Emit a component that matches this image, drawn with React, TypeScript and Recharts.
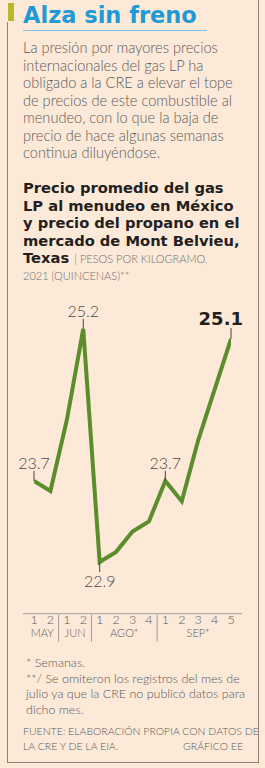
import React from 'react';
import { LineChart, Line, XAxis, YAxis, LabelList } from 'recharts';

// quincenas (two-week periods) 2021; July is omitted
const QUINCENAS = ['1', '2', '1', '2', '1', '2', '3', '4', '1', '2', '3', '4', '5'];
const MONTHS = ['MAY', 'JUN', 'AGO*', 'SEP*'];
const MONTH_SIZES = [2, 2, 4, 5];
const PRICES = [23.7, 23.6, 24.3, 25.2, 22.9, 23.0, 23.2, 23.3, 23.7, 23.5, 24.1, 24.6, 25.1];
// which points carry a value label, and where
const LABELED: Record<number, 'up' | 'down' | 'bold'> = { 0: 'up', 3: 'up', 4: 'down', 8: 'up', 12: 'bold' };

const BG = '#fde9d8';
const GREEN = '#5b8d2c';
const GRAY = '#58595b';
const LIGHT = 'Lato, "Open Sans", sans-serif';
const BOLD = '"DejaVu Sans", Lato, sans-serif';

const data = PRICES.map((v, i) => ({ i, v }));

// month centres and separators, from the group sizes
const monthCenters: number[] = [];
const separators: number[] = [];
let start = 0;
MONTH_SIZES.forEach((n, k) => {
  monthCenters.push(start + (n - 1) / 2);
  if (k > 0) separators.push(start - 0.5);
  start += n;
});

const PARAGRAPH = [
  'La presión por mayores precios',
  'internacionales del gas LP ha',
  'obligado a la CRE a elevar el tope',
  'de precios de este combustible al',
  'menudeo, con lo que la baja de',
  'precio de hace algunas semanas',
  'continua diluyéndose.'
];

const SUBTITLE = [
  'Precio promedio del gas',
  'LP al menudeo en México',
  'y precio del propano en el',
  'mercado de Mont Belvieu,'
];

const NOTES = [
  '* Semanas.',
  '**/ Se omiteron los registros del mes de',
  'julio ya que la CRE no publicó datos para',
  'dicho mes.'
];

function ValueLabel(props: any) {
  const { x, y, value, index } = props;
  const kind = LABELED[index];
  if (!kind) return null;
  if (kind === 'down') {
    return (
      <g>
        <line x1={x} x2={x} y1={y} y2={y + 10} stroke="#444" strokeWidth={1} />
        <text x={x} y={y + 25} textAnchor="middle" fill="#4a4a4a" fontSize={16} fontWeight={300} fontFamily={LIGHT}>
          {value.toFixed(1)}
        </text>
      </g>
    );
  }
  if (kind === 'bold') {
    return (
      <g>
        <line x1={x} x2={x} y1={y - 11} y2={y} stroke="#444" strokeWidth={1} />
        <text x={x + 12} y={y - 14} textAnchor="end" fill="#231f20" fontSize={18} fontWeight={700} fontFamily={BOLD}>
          {value.toFixed(1)}
        </text>
      </g>
    );
  }
  return (
    <g>
      <line x1={x} x2={x} y1={y - 10} y2={y} stroke="#444" strokeWidth={1} />
      <text x={x} y={y - 12} textAnchor="middle" fill="#4a4a4a" fontSize={16} fontWeight={300} fontFamily={LIGHT}>
        {value.toFixed(1)}
      </text>
    </g>
  );
}

const pad = { left: 11, right: 11 };
const axisCommon = {
  dataKey: 'i',
  type: 'number' as const,
  domain: [0, QUINCENAS.length - 1],
  padding: pad,
  height: 1,
  interval: 0 as const,
  allowDataOverflow: true
};

export default function App() {
  return (
    <div style={{ position: 'absolute', left: 0, top: 0, width: 265, height: 768, background: BG, overflow: 'hidden' }}>
      {/* frame */}
      <div style={{ position: 'absolute', left: 7, top: 22, width: 250, height: 740, borderLeft: '1px solid #8f8178', borderBottom: '1px solid #8f8178' }} />
      <div style={{ position: 'absolute', left: 258, top: 0, width: 1, height: 763, background: '#8f8178' }} />
      <div style={{ position: 'absolute', left: 8, top: 3, width: 6, height: 18, background: '#b8b82a' }} />

      {/* title */}
      <div style={{ position: 'absolute', left: 23, top: 0, fontFamily: BOLD, fontWeight: 700, fontSize: 22.5, lineHeight: '30px', color: '#1e9ad6', whiteSpace: 'nowrap' }}>
        Alza sin freno
      </div>
      <div style={{ position: 'absolute', left: 23, top: 30, width: 184, height: 1, background: '#7cc3e8' }} />

      {PARAGRAPH.map((t, k) => (
        <div key={k} style={{ position: 'absolute', left: 23, top: 39 + k * 17.5, fontFamily: LIGHT, fontWeight: 300, fontSize: 14.6, lineHeight: '17.5px', color: GRAY, whiteSpace: 'nowrap' }}>
          {t}
        </div>
      ))}

      {SUBTITLE.map((t, k) => (
        <div key={k} style={{ position: 'absolute', left: 23, top: 179 + k * 17.5, fontFamily: BOLD, fontWeight: 700, fontSize: 14.7, lineHeight: '17.5px', color: '#231f20', whiteSpace: 'nowrap' }}>
          {t}
        </div>
      ))}
      <div style={{ position: 'absolute', left: 23, top: 249, fontFamily: BOLD, fontWeight: 700, fontSize: 14.7, lineHeight: '17.5px', color: '#231f20', whiteSpace: 'nowrap' }}>
        Texas <span style={{ fontFamily: LIGHT, fontWeight: 300, fontSize: 11, color: '#6d6e71' }}>| PESOS POR KILOGRAMO,</span>
      </div>
      <div style={{ position: 'absolute', left: 23, top: 268, fontFamily: LIGHT, fontWeight: 300, fontSize: 11, lineHeight: '16px', color: '#6d6e71', whiteSpace: 'nowrap' }}>
        2021 (QUINCENAS)**
      </div>

      {/* chart */}
      <div style={{ position: 'absolute', left: 0, top: 290 }}>
        <LineChart width={265} height={360} data={data} margin={{ top: 8.4, right: 23, bottom: 34.3, left: 23 }}>
          <YAxis hide domain={[22.4, 25.5]} type="number" allowDataOverflow />
          <XAxis
            {...axisCommon}
            xAxisId="num"
            ticks={QUINCENAS.map((_, i) => i)}
            tickFormatter={(v: number) => QUINCENAS[v]}
            axisLine={{ stroke: '#9d9d9d', strokeWidth: 1 }}
            tickLine={false}
            tickSize={0}
            tickMargin={1}
            tick={{ fill: GRAY, fontSize: 12.5, fontWeight: 300, fontFamily: LIGHT }}
          />
          <XAxis
            {...axisCommon}
            xAxisId="sep"
            ticks={separators}
            axisLine={false}
            tickLine={{ stroke: '#9d9d9d', strokeWidth: 1 }}
            tickSize={27}
            tickFormatter={() => ''}
          />
          <XAxis
            {...axisCommon}
            xAxisId="month"
            ticks={monthCenters}
            tickFormatter={(v: number) => MONTHS[monthCenters.indexOf(v)]}
            axisLine={false}
            tickLine={false}
            tickSize={0}
            tickMargin={16}
            tick={{ fill: GRAY, fontSize: 11, fontWeight: 300, fontFamily: LIGHT }}
          />
          <Line
            xAxisId="num"
            dataKey="v"
            stroke={GREEN}
            strokeWidth={4}
            dot={false}
            type="linear"
            isAnimationActive={false}
          >
            <LabelList dataKey="v" content={<ValueLabel />} />
          </Line>
        </LineChart>
      </div>

      {NOTES.map((t, k) => (
        <div key={k} style={{ position: 'absolute', left: 26, top: 655 + k * 15.7, fontFamily: LIGHT, fontWeight: 300, fontSize: 12.5, lineHeight: '15.7px', color: GRAY, whiteSpace: 'nowrap' }}>
          {t}
        </div>
      ))}

      <div style={{ position: 'absolute', left: 23, top: 724, width: 220, fontFamily: LIGHT, fontWeight: 300, fontSize: 10.5, lineHeight: '15px', color: GRAY, whiteSpace: 'nowrap' }}>
        <div>FUENTE: ELABORACIÓN PROPIA CON DATOS DE</div>
        <div style={{ display: 'flex', justifyContent: 'space-between' }}>
          <span>LA CRE Y DE LA EIA.</span>
          <span>GRÁFICO EE</span>
        </div>
      </div>
    </div>
  );
}
